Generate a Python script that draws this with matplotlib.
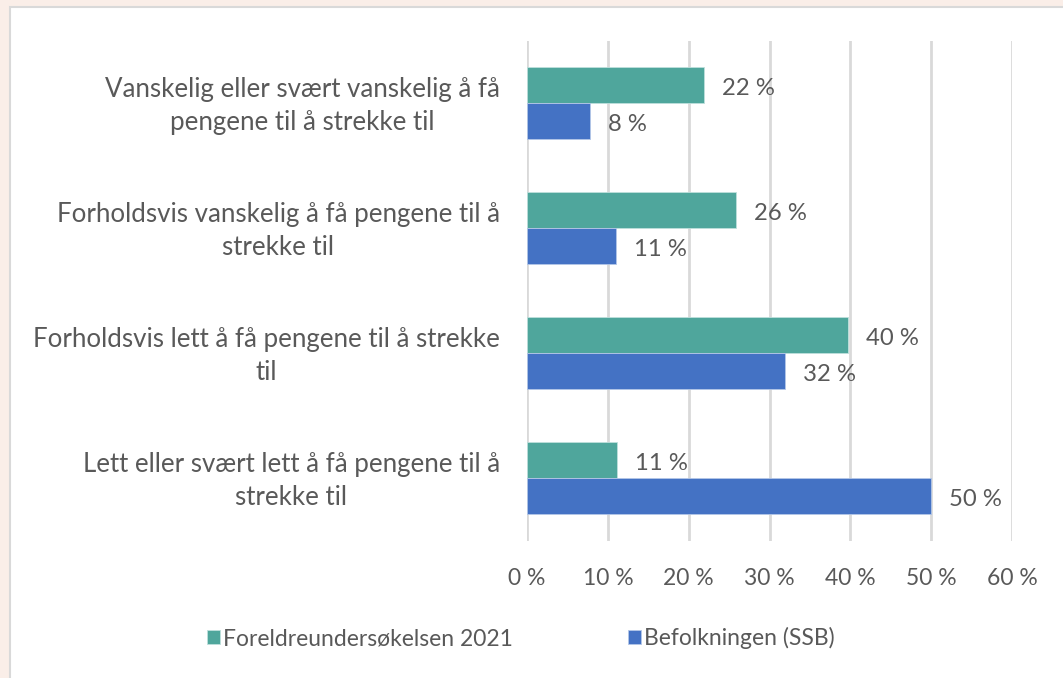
import matplotlib
matplotlib.use("Agg")
import matplotlib.pyplot as plt
import matplotlib.transforms as mtrans
from matplotlib.patches import Rectangle
import numpy as np

categories = [
    "Vanskelig eller svært vanskelig å få\npengene til å strekke til",
    "Forholdsvis vanskelig å få pengene til å\nstrekke til",
    "Forholdsvis lett å få pengene til å strekke\ntil",
    "Lett eller svært lett å få pengene til å\nstrekke til",
]
series_names = ["Foreldreundersøkelsen 2021", "Befolkningen (SSB)"]
foreldre = [0.219, 0.259, 0.397, 0.111]
befolkning = [0.078, 0.110, 0.319, 0.500]
xticks = [0.0, 0.1, 0.2, 0.3, 0.4, 0.5, 0.6]
xtick_labels = ["0 %", "10 %", "20 %", "30 %", "40 %", "50 %", "60 %"]

TEAL = "#4FA69C"
BLUE = "#4472C4"
TXT = "#595959"
FS = 16.5
FS_CAT = 18.6
FS_LBL = 17.2
plt.rcParams["font.family"] = ["Lato", "DejaVu Sans"]

fig = plt.figure(figsize=(10.63, 6.78), dpi=100)
fig.patch.set_facecolor("#FAEEE8")
panel = Rectangle((10 / 1063, -0.01), 1.0, 1.01 - 7 / 678, transform=fig.transFigure,
                  facecolor="white", edgecolor="#D9D9D9", linewidth=1.5, zorder=-10)
fig.patches.append(panel)

ax = fig.add_axes([527 / 1063, 1 - 540.5 / 678, (1012 - 527) / 1063, 500 / 678])
ax.set_zorder(2)
ax.set_facecolor("none")

n = len(categories)
y = np.arange(n)
h = 0.288
ax.barh(y - h / 2, foreldre, height=h, color=TEAL, edgecolor="#BFE0DC", linewidth=0.6,
        label=series_names[0], zorder=3)
ax.barh(y + h / 2, befolkning, height=h, color=BLUE, edgecolor="#B4C7E7", linewidth=0.6,
        label=series_names[1], zorder=3)

for yi, v in zip(y - h / 2, foreldre):
    ax.annotate(f"{round(v * 100):d} %", (v, yi), xytext=(13, -2.5), textcoords="offset points",
                ha="left", va="center", fontsize=FS_LBL, color=TXT)
for yi, v in zip(y + h / 2, befolkning):
    ax.annotate(f"{round(v * 100):d} %", (v, yi), xytext=(13, -2.5), textcoords="offset points",
                ha="left", va="center", fontsize=FS_LBL, color=TXT)

ax.set_ylim(n - 0.5, -0.5)
ax.set_xlim(0, 0.6)
ax.set_xticks(xticks)
ax.set_xticklabels(xtick_labels, fontsize=FS, color=TXT)
ax.tick_params(axis="x", length=0, pad=20)
ax.set_yticks([])
ax.grid(axis="x", color="#D9D9D9", linewidth=2, zorder=0)
for s in ax.spines.values():
    s.set_visible(False)

trans = mtrans.blended_transform_factory(fig.transFigure, ax.transData) + \
    mtrans.ScaledTranslation(0, -3 / 100, fig.dpi_scale_trans)
for yi, c in zip(y, categories):
    ax.text(500 / 1063, yi, c, transform=trans, ha="right", va="center",
            multialignment="center", fontsize=FS_CAT, color=TXT, linespacing=1.4,
            clip_on=False)

leg = fig.legend(loc="center", bbox_to_anchor=(521 / 1063, 1 - 638 / 678), ncol=2,
                 frameon=False, fontsize=FS, handlelength=0.55, handleheight=0.55,
                 handletextpad=0.15, columnspacing=5.0)
for t in leg.get_texts():
    t.set_color(TXT)

fig.savefig("out.png", dpi=100, facecolor=fig.get_facecolor())
